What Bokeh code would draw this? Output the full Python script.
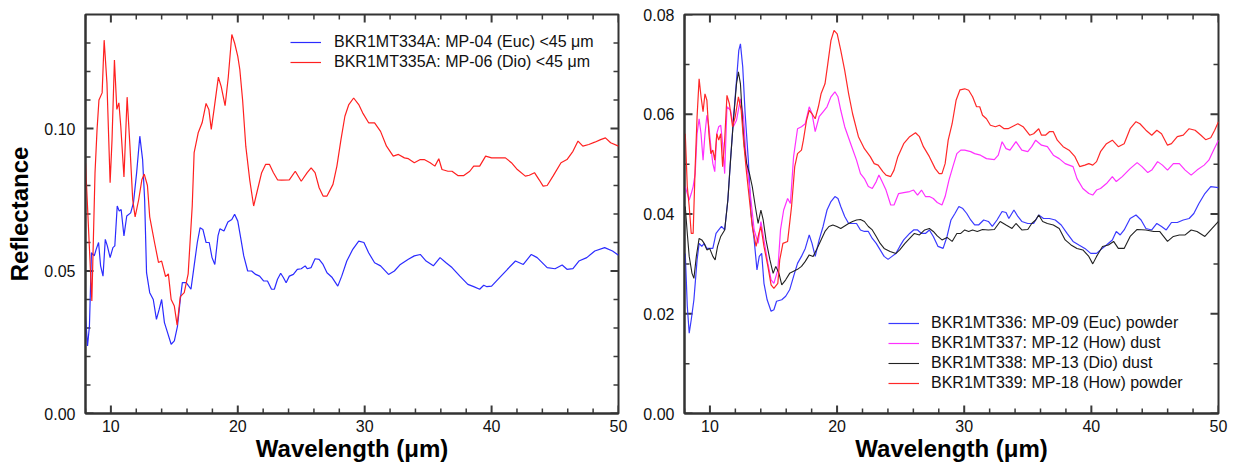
from bokeh.plotting import figure
from bokeh.models import Range1d, SingleIntervalTicker, NumeralTickFormatter, Legend, LegendItem
from bokeh.layouts import row
from bokeh.embed import file_html
from bokeh.resources import INLINE

# ---------------- Left panel data ----------------
L_EUC_X = [8.0, 8.16, 8.31, 8.47, 8.69, 8.84, 9.03, 9.19, 9.38, 9.56,
           9.72, 9.94, 10.16, 10.31, 10.5, 10.66, 10.81, 11.03, 11.25, 11.56,
           11.78, 12.03, 12.28, 12.5, 12.66, 12.81, 13.06, 13.34, 13.59, 13.81,
           14.0, 14.22, 14.38, 14.75, 15.0, 15.25, 15.47, 15.63, 15.94, 16.31,
           16.56, 16.81, 17.03, 17.25, 17.5, 17.75, 17.97, 18.19, 18.44, 18.59,
           18.91, 19.22, 19.53, 19.75, 20.0, 20.25, 20.47, 20.78, 21.09, 21.41,
           21.72, 22.03, 22.34, 22.66, 22.88, 23.13, 23.38, 23.59, 23.81, 24.06,
           24.38, 24.69, 25.0, 25.31, 25.47, 25.78, 26.09, 26.41, 26.72, 27.03,
           27.44, 27.88, 28.19, 28.59, 29.06, 29.53, 29.94, 30.31, 30.78, 31.25,
           31.88, 32.34, 32.81, 33.44, 33.91, 34.38, 34.84, 35.41, 35.94, 36.41,
           36.88, 37.5, 38.13, 38.59, 39.06, 39.38, 39.63, 40.0, 40.63, 41.25,
           41.88, 42.5, 43.13, 43.59, 44.38, 45.0, 45.56, 45.94, 46.41, 46.88,
           47.5, 48.13, 48.91, 49.53, 50.0]
L_EUC_Y = [0.0342, 0.0237, 0.0307, 0.0564, 0.0553, 0.0576, 0.060, 0.0518, 0.0482, 0.0611,
           0.0588, 0.0547, 0.0582, 0.0588, 0.0728, 0.071, 0.0716, 0.0623, 0.0693, 0.0704,
           0.074, 0.0845, 0.0973, 0.0891, 0.075, 0.0494, 0.0424, 0.040, 0.033, 0.0366,
           0.040, 0.0319, 0.0296, 0.0243, 0.0255, 0.0307, 0.040, 0.0459, 0.0459, 0.0436,
           0.0518, 0.060, 0.0652, 0.0646, 0.060, 0.060, 0.0547, 0.0523, 0.0623, 0.0648,
           0.064, 0.0672, 0.0681, 0.0699, 0.0675, 0.0611, 0.0553, 0.050, 0.050, 0.0488,
           0.0482, 0.0465, 0.0465, 0.0436, 0.0436, 0.0471, 0.0492, 0.0477, 0.0459, 0.0482,
           0.0488, 0.0506, 0.0508, 0.0518, 0.0508, 0.0512, 0.0543, 0.0541, 0.0523, 0.0494,
           0.0477, 0.0447, 0.0482, 0.0535, 0.0576, 0.0605, 0.060, 0.0564, 0.0529, 0.0518,
           0.0488, 0.050, 0.0523, 0.0541, 0.0553, 0.0558, 0.0535, 0.0518, 0.0547, 0.0529,
           0.0512, 0.0482, 0.0453, 0.0445, 0.0436, 0.045, 0.0445, 0.0447, 0.0477, 0.0506,
           0.0535, 0.0523, 0.0558, 0.0547, 0.0512, 0.0508, 0.0521, 0.0506, 0.0508, 0.0535,
           0.0547, 0.057, 0.0582, 0.057, 0.0555]

L_DIO_X = [8.0, 8.5, 8.75, 8.91, 9.06, 9.31, 9.47, 9.69, 9.94, 10.09,
           10.28, 10.47, 10.63, 10.78, 11.03, 11.28, 11.5, 11.72, 11.91, 12.19,
           12.44, 12.63, 12.88, 13.06, 13.44, 13.75, 14.0, 14.31, 14.53, 14.75,
           15.0, 15.22, 15.47, 15.78, 16.09, 16.41, 16.56, 16.88, 17.19, 17.5,
           17.72, 17.91, 18.13, 18.47, 18.69, 19.0, 19.25, 19.53, 19.75, 20.0,
           20.16, 20.38, 20.63, 20.94, 21.25, 21.56, 21.88, 22.19, 22.5, 22.81,
           23.13, 23.44, 24.06, 24.53, 25.0, 25.47, 25.78, 26.09, 26.41, 26.72,
           27.03, 27.5, 27.81, 28.13, 28.44, 28.75, 29.13, 29.53, 29.84, 30.31,
           30.78, 31.25, 31.72, 32.25, 32.66, 33.13, 33.44, 33.91, 34.38, 34.69,
           35.16, 35.53, 35.84, 36.09, 36.56, 36.88, 37.34, 37.81, 38.28, 38.59,
           39.06, 39.53, 40.0, 40.63, 41.09, 41.56, 42.03, 42.66, 42.97, 43.38,
           43.75, 44.06, 44.38, 44.84, 45.47, 45.94, 46.41, 46.81, 47.19, 47.66,
           48.13, 48.59, 48.97, 49.38, 50.0]
L_DIO_Y = [0.088, 0.0395, 0.0845, 0.0996, 0.110, 0.1125, 0.131, 0.116, 0.081, 0.096,
           0.124, 0.1067, 0.109, 0.1008, 0.083, 0.111, 0.094, 0.075, 0.069, 0.075,
           0.082, 0.084, 0.080, 0.069, 0.060, 0.053, 0.0535, 0.048, 0.049, 0.040,
           0.0377, 0.031, 0.041, 0.0424, 0.049, 0.0728, 0.0915, 0.0985, 0.102, 0.1088,
           0.1067, 0.0997, 0.1067, 0.118, 0.1148, 0.108, 0.118, 0.133, 0.130, 0.1253,
           0.1207, 0.110, 0.0938, 0.082, 0.0728, 0.0786, 0.0845, 0.0874, 0.0874, 0.0845,
           0.082, 0.0819, 0.082, 0.085, 0.0815, 0.0845, 0.0862, 0.0845, 0.0792, 0.0763,
           0.0763, 0.0804, 0.0868, 0.0961, 0.1043, 0.1084, 0.1107, 0.1084, 0.1055, 0.102,
           0.102, 0.099, 0.0938, 0.0903, 0.0909, 0.0897, 0.0894, 0.088, 0.0891, 0.0891,
           0.088, 0.0868, 0.0894, 0.0856, 0.085, 0.085, 0.0835, 0.0835, 0.085, 0.0868,
           0.0868, 0.0903, 0.0897, 0.0897, 0.0897, 0.088, 0.0856, 0.0833, 0.0836, 0.0845,
           0.082, 0.0798, 0.080, 0.0833, 0.088, 0.0891, 0.092, 0.0956, 0.0938, 0.0944,
           0.0952, 0.0961, 0.0967, 0.095, 0.0938]

# ---------------- Right panel data ----------------
R_EUC_X = [8.06, 8.22, 8.37, 8.53, 8.74, 8.99, 9.15, 9.36, 9.55, 9.76,
           9.98, 10.23, 10.48, 10.69, 10.91, 11.16, 11.41, 11.62, 11.84, 12.09,
           12.27, 12.40, 12.58, 12.77, 13.02, 13.23, 13.48, 13.70, 13.88, 14.07,
           14.25, 14.50, 14.81, 15.03, 15.24, 15.65, 15.96, 16.27, 16.58, 16.89,
           17.20, 17.50, 17.81, 18.03, 18.28, 18.59, 18.90, 19.21, 19.52, 19.83,
           20.07, 20.29, 20.60, 20.91, 21.22, 21.53, 21.84, 22.15, 22.46, 22.77,
           23.08, 23.39, 23.70, 24.01, 24.32, 24.63, 24.93, 25.24, 25.71, 26.02,
           26.33, 26.64, 26.95, 27.26, 27.57, 27.94, 28.34, 28.65, 28.96, 29.27,
           29.58, 29.89, 30.20, 30.51, 30.82, 31.13, 31.53, 31.90, 32.21, 32.58,
           32.98, 33.29, 33.51, 33.91, 34.22, 34.53, 35.0, 35.46, 35.86, 36.24,
           36.70, 37.16, 37.63, 38.09, 38.56, 39.02, 39.49, 39.95, 40.41, 40.72,
           41.19, 41.65, 41.96, 42.27, 42.58, 43.05, 43.51, 43.91, 44.29, 44.75,
           45.15, 45.52, 45.89, 46.30, 46.76, 47.23, 47.69, 48.06, 48.46, 48.93,
           49.39, 50.0]
R_EUC_Y = [0.0321, 0.0215, 0.0161, 0.0188, 0.0228, 0.0308, 0.0341, 0.0335, 0.0341, 0.0331,
           0.0331, 0.0331, 0.0361, 0.0368, 0.0375, 0.0368, 0.0428, 0.0508, 0.0588, 0.0668,
           0.0728, 0.0741, 0.0695, 0.0601, 0.0508, 0.0401, 0.0348, 0.0288, 0.0315, 0.0321,
           0.0261, 0.0228, 0.0205, 0.0208, 0.0225, 0.0228, 0.0235, 0.0248, 0.0275, 0.0301,
           0.0315, 0.0331, 0.0358, 0.0341, 0.0315, 0.0348, 0.0375, 0.0408, 0.0425, 0.0435,
           0.0431, 0.0415, 0.0395, 0.0381, 0.0381, 0.0381, 0.0368, 0.0365, 0.0365, 0.0351,
           0.0341, 0.0328, 0.0315, 0.0309, 0.0315, 0.0321, 0.0335, 0.0348, 0.0361, 0.0368,
           0.0368, 0.0361, 0.0361, 0.0368, 0.0355, 0.0335, 0.0331, 0.0355, 0.0388, 0.0401,
           0.0415, 0.0411, 0.0401, 0.0388, 0.0378, 0.0378, 0.0388, 0.0385, 0.0375, 0.0388,
           0.0405, 0.0403, 0.0391, 0.0408, 0.0395, 0.0385, 0.0381, 0.0381, 0.0398, 0.0391,
           0.0391, 0.0388, 0.0378, 0.0361, 0.0345, 0.0338, 0.0331, 0.0321, 0.0321, 0.0328,
           0.0338, 0.0348, 0.0365, 0.0358, 0.0368, 0.0391, 0.0398, 0.0388, 0.0371, 0.0368,
           0.0381, 0.0375, 0.0368, 0.0383, 0.0383, 0.0388, 0.0391, 0.0401, 0.0421, 0.0441,
           0.0455, 0.0453]

R_HOWD_X = [8.06, 8.22, 8.37, 8.53, 8.68, 8.84, 8.99, 9.15, 9.30, 9.46,
            9.61, 9.76, 9.92, 10.07, 10.23, 10.38, 10.54, 10.69, 10.85, 11.0,
            11.16, 11.34, 11.62, 11.84, 12.09, 12.40, 12.64, 12.86, 13.17, 13.48,
            13.79, 14.01, 14.25, 14.56, 14.81, 15.03, 15.34, 15.55, 15.80, 16.11,
            16.33, 16.58, 16.89, 17.20, 17.50, 17.81, 18.03, 18.28, 18.59, 18.90,
            19.21, 19.52, 19.83, 20.07, 20.29, 20.60, 21.07, 21.53, 21.84, 22.15,
            22.46, 22.77, 23.08, 23.29, 23.54, 23.85, 24.22, 24.48, 24.84, 25.24,
            25.71, 26.02, 26.33, 26.64, 26.95, 27.26, 27.57, 27.88, 28.25, 28.50,
            28.80, 29.11, 29.42, 29.73, 30.04, 30.51, 30.82, 31.28, 31.75, 32.37,
            32.68, 32.98, 33.29, 33.60, 34.07, 34.53, 35.0, 35.31, 35.62, 36.08,
            36.54, 37.01, 37.47, 37.94, 38.56, 38.87, 39.33, 39.80, 40.11, 40.41,
            40.72, 41.19, 41.65, 41.96, 42.43, 43.05, 43.60, 43.98, 44.44, 44.75,
            45.21, 45.59, 45.99, 46.45, 46.92, 47.38, 47.85, 48.31, 48.87, 49.24,
            49.61, 50.0]
R_HOWD_Y = [0.0455, 0.0441, 0.0428, 0.0441, 0.0455, 0.0481, 0.0561, 0.0591, 0.0561, 0.0508,
            0.0561, 0.0598, 0.0575, 0.0535, 0.0501, 0.0485, 0.0561, 0.0575, 0.0578, 0.0541,
            0.0481, 0.0615, 0.0608, 0.0575, 0.0588, 0.0631, 0.0595, 0.0508, 0.0441, 0.0368,
            0.0341, 0.0385, 0.0348, 0.0301, 0.0268, 0.0261, 0.0288, 0.0368, 0.0408, 0.0431,
            0.0421, 0.0515, 0.0571, 0.0575, 0.0581, 0.0615, 0.0601, 0.0565, 0.0595, 0.0605,
            0.0615, 0.0635, 0.0645, 0.0635, 0.0608, 0.0575, 0.0541, 0.0508, 0.0481, 0.0471,
            0.0455, 0.0451, 0.0465, 0.0478, 0.0465, 0.0448, 0.0418, 0.0418, 0.0441, 0.0443,
            0.0445, 0.0448, 0.0438, 0.0448, 0.0435, 0.0435, 0.0431, 0.0423, 0.0418, 0.0435,
            0.0468, 0.0495, 0.0521, 0.0528, 0.0528, 0.0525, 0.0521, 0.0518, 0.0511, 0.0509,
            0.0518, 0.0545, 0.0531, 0.0528, 0.0545, 0.0528, 0.0525, 0.0535, 0.0548, 0.0538,
            0.0535, 0.0518, 0.0511, 0.0501, 0.0495, 0.0471, 0.0451, 0.0441, 0.0438, 0.0448,
            0.0451, 0.0461, 0.0475, 0.0465, 0.0475, 0.0491, 0.0503, 0.0495, 0.0483, 0.0488,
            0.0505, 0.0498, 0.0488, 0.0501, 0.0501, 0.0488, 0.0478, 0.0488, 0.0498, 0.0508,
            0.0528, 0.0548]

R_DIO_X = [8.06, 8.22, 8.37, 8.59, 8.74, 8.93, 9.15, 9.36, 9.55, 9.76,
           9.98, 10.23, 10.41, 10.60, 10.85, 11.16, 11.41, 11.62, 11.87, 12.09,
           12.24, 12.40, 12.58, 12.71, 12.89, 13.11, 13.33, 13.57, 13.79, 14.01,
           14.19, 14.41, 14.72, 14.97, 15.18, 15.43, 15.65, 15.96, 16.27, 16.58,
           16.89, 17.20, 17.50, 17.81, 18.12, 18.43, 18.74, 19.05, 19.36, 19.67,
           19.98, 20.29, 20.60, 20.91, 21.22, 21.53, 21.84, 22.15, 22.46, 22.77,
           23.08, 23.39, 23.70, 24.17, 24.63, 24.93, 25.34, 25.71, 26.08, 26.48,
           26.89, 27.26, 27.57, 27.88, 28.25, 28.65, 29.05, 29.42, 29.73, 30.04,
           30.35, 30.66, 31.03, 31.44, 31.90, 32.37, 32.83, 33.29, 33.76, 34.07,
           34.53, 35.0, 35.31, 35.62, 35.86, 36.17, 36.54, 37.01, 37.47, 37.94,
           38.40, 38.87, 39.33, 39.80, 40.11, 40.41, 40.88, 41.34, 41.75, 42.12,
           42.58, 43.05, 43.60, 44.29, 44.90, 45.37, 45.99, 46.45, 46.92, 47.38,
           47.85, 48.31, 48.93, 49.39, 50.0]
R_DIO_Y = [0.0415, 0.0361, 0.0315, 0.0281, 0.0271, 0.0315, 0.0351, 0.0348, 0.0341, 0.0328,
           0.0331, 0.0315, 0.0308, 0.0335, 0.0355, 0.0368, 0.0428, 0.0508, 0.0595, 0.0661,
           0.0685, 0.0661, 0.0581, 0.0535, 0.0501, 0.0481, 0.0455, 0.0415, 0.0381, 0.0408,
           0.0388, 0.0348, 0.0308, 0.0281, 0.0295, 0.0281, 0.0258, 0.0268, 0.0281, 0.0285,
           0.0289, 0.0295, 0.0305, 0.0318, 0.0315, 0.0331, 0.0348, 0.0365, 0.0375, 0.0378,
           0.0375, 0.0371, 0.0376, 0.0381, 0.0385, 0.0388, 0.0389, 0.0385, 0.0375, 0.0368,
           0.0355, 0.0341, 0.0331, 0.0325, 0.0321, 0.0328, 0.0341, 0.0351, 0.0361, 0.0358,
           0.0368, 0.0371, 0.0365, 0.0356, 0.0348, 0.0353, 0.0345, 0.0361, 0.0361, 0.0368,
           0.0365, 0.0368, 0.0365, 0.0369, 0.0368, 0.0369, 0.0385, 0.0378, 0.0371, 0.0381,
           0.0368, 0.0369, 0.0381, 0.0388, 0.0398, 0.0385, 0.0381, 0.0378, 0.0371, 0.0348,
           0.0338, 0.0331, 0.0328, 0.0315, 0.030, 0.0315, 0.0335, 0.0338, 0.0345, 0.0331,
           0.0331, 0.0355, 0.0369, 0.0368, 0.0365, 0.0365, 0.0345, 0.0355, 0.0358, 0.0358,
           0.0368, 0.0365, 0.0355, 0.0368, 0.0385]

R_HOWP_X = [8.06, 8.22, 8.37, 8.53, 8.68, 8.84, 8.99, 9.15, 9.30, 9.46,
            9.61, 9.76, 9.92, 10.07, 10.23, 10.38, 10.54, 10.69, 10.85, 11.0,
            11.16, 11.34, 11.53, 11.78, 11.99, 12.24, 12.46, 12.64, 12.86, 13.11,
            13.33, 13.63, 13.85, 14.01, 14.25, 14.56, 14.81, 15.03, 15.34, 15.49,
            15.74, 16.11, 16.42, 16.67, 16.89, 17.20, 17.35, 17.60, 17.81, 18.03,
            18.28, 18.53, 18.74, 19.05, 19.27, 19.52, 19.76, 20.01, 20.29, 20.60,
            20.91, 21.22, 21.68, 22.15, 22.61, 22.92, 23.23, 23.60, 23.85, 24.22,
            24.48, 24.78, 25.24, 25.71, 26.17, 26.48, 26.79, 27.26, 27.72, 28.03,
            28.25, 28.50, 28.74, 29.05, 29.36, 29.67, 30.04, 30.35, 30.66, 30.97,
            31.22, 31.44, 31.75, 32.06, 32.46, 32.77, 33.14, 33.45, 33.76, 34.22,
            34.63, 35.15, 35.46, 35.86, 36.08, 36.39, 36.70, 37.01, 37.32, 37.78,
            38.25, 38.71, 39.08, 39.49, 39.80, 40.11, 40.41, 40.72, 41.19, 41.65,
            42.12, 42.58, 43.05, 43.51, 43.82, 44.29, 44.75, 45.15, 45.52, 45.99,
            46.30, 46.76, 47.23, 47.69, 48.16, 48.62, 48.99, 49.39, 49.70, 50.0]
R_HOWP_Y = [0.0561, 0.0455, 0.0415, 0.0361, 0.0361, 0.0495, 0.0595, 0.0671, 0.0635, 0.0605,
            0.0641, 0.0628, 0.0561, 0.0521, 0.0528, 0.0508, 0.0561, 0.0548, 0.0561, 0.0495,
            0.0548, 0.0638, 0.0621, 0.0575, 0.0595, 0.0635, 0.0608, 0.0548, 0.0488, 0.0428,
            0.0375, 0.0335, 0.0361, 0.0375, 0.0335, 0.0295, 0.0258, 0.0251, 0.0261, 0.0308,
            0.0341, 0.0345, 0.0415, 0.0495, 0.0521, 0.0528, 0.0548, 0.0588, 0.0608, 0.0601,
            0.0591, 0.0615, 0.0641, 0.0661, 0.0701, 0.0748, 0.0768, 0.0761, 0.0728, 0.0688,
            0.0641, 0.0601, 0.0555, 0.0531, 0.0515, 0.0501, 0.0498, 0.0485, 0.0478, 0.0475,
            0.0488, 0.0515, 0.0541, 0.0555, 0.0563, 0.0555, 0.0535, 0.0515, 0.0491, 0.0481,
            0.0481, 0.0501, 0.0548, 0.0581, 0.0628, 0.0649, 0.0651, 0.0648, 0.0635, 0.0615,
            0.0615, 0.0598, 0.0591, 0.0578, 0.0575, 0.0578, 0.0571, 0.0571, 0.0575, 0.0581,
            0.0575, 0.0558, 0.0561, 0.0571, 0.0558, 0.0558, 0.0565, 0.0565, 0.0548, 0.0535,
            0.0528, 0.0515, 0.0495, 0.0498, 0.0501, 0.0498, 0.0505, 0.0525, 0.0541, 0.0548,
            0.0535, 0.0541, 0.0571, 0.0585, 0.0581, 0.0568, 0.0558, 0.0568, 0.0561, 0.0538,
            0.0541, 0.0555, 0.0558, 0.0571, 0.0568, 0.0558, 0.0549, 0.0553, 0.0568, 0.0585]

LEFT_LABELS = ["BKR1MT334A: MP-04 (Euc) <45 \u03bcm", "BKR1MT335A: MP-06 (Dio) <45 \u03bcm"]
RIGHT_LABELS = ["BKR1MT336: MP-09 (Euc) powder", "BKR1MT337: MP-12 (How) dust",
                "BKR1MT338: MP-13 (Dio) dust", "BKR1MT339: MP-18 (How) powder"]
X_TITLE = "Wavelength (\u03bcm)"
Y_TITLE = "Reflectance"

# tick positions (drawn as inward tick marks on all four frame edges)
X_MAJOR = [10, 20, 30, 40, 50]
X_MINOR = [8, 12, 14, 16, 18, 22, 24, 26, 28, 32, 34, 36, 38, 42, 44, 46, 48]
YL_MAJOR = [0.00, 0.05, 0.10]
YL_MINOR = [0.01, 0.02, 0.03, 0.04, 0.06, 0.07, 0.08, 0.09, 0.11, 0.12, 0.13]
YR_MAJOR = [0.00, 0.02, 0.04, 0.06, 0.08]
YR_MINOR = [0.01, 0.03, 0.05, 0.07]
X_LIM = (8, 50)
YL_LIM = (0, 0.14)
YR_LIM = (0, 0.08)

FONT = "Liberation Sans"
FRAME = "#333333"
TICK = "#3a3a3a"
MAJOR_LEN = 8     # px
MINOR_LEN = 5     # px
FRAME_H = 399     # px, plot-area height of both panels
FRAME_W1 = 533    # px, plot-area width of left panel
FRAME_W2 = 534    # px, plot-area width of right panel


def style(p, y_interval, y_minor):
    xax = p.below[0]
    yax = p.left[0]
    xax.ticker = SingleIntervalTicker(interval=10, num_minor_ticks=5)
    yax.ticker = SingleIntervalTicker(interval=y_interval, num_minor_ticks=y_minor)
    yax.formatter = NumeralTickFormatter(format="0.00")
    for ax in [xax, yax]:
        ax.major_tick_in = 0
        ax.major_tick_out = 0
        ax.minor_tick_in = 0
        ax.minor_tick_out = 0
        ax.axis_line_color = FRAME
        ax.axis_line_width = 2
        ax.major_label_text_font = FONT
        ax.major_label_text_font_size = "16px"
        ax.major_label_text_color = "#111111"
        ax.axis_label_text_font = FONT
        ax.axis_label_text_font_size = "24px"
        ax.axis_label_text_font_style = "bold"
        ax.axis_label_text_color = "#000000"
    xax.major_label_standoff = 6
    xax.axis_label_standoff = 0
    yax.major_label_standoff = 10
    p.xgrid.visible = False
    p.ygrid.visible = False
    p.outline_line_color = FRAME
    p.outline_line_width = 2
    p.background_fill_color = "white"
    p.border_fill_color = "white"
    return xax, yax


def add_ticks(p, ylim, y_major, y_minor, frame_w):
    x0, x1 = X_LIM
    y0, y1 = ylim
    px_x = (x1 - x0) / frame_w      # data units per pixel along x
    px_y = (y1 - y0) / FRAME_H      # data units per pixel along y
    for ticks, length, width in [(X_MAJOR, MAJOR_LEN, 2), (X_MINOR, MINOR_LEN, 1.5)]:
        n = len(ticks)
        p.segment(x0=ticks, y0=[y0] * n, x1=ticks, y1=[y0 + length * px_y] * n,
                  line_color=TICK, line_width=width)
        p.segment(x0=ticks, y0=[y1] * n, x1=ticks, y1=[y1 - length * px_y] * n,
                  line_color=TICK, line_width=width)
    for ticks, length, width in [(y_major, MAJOR_LEN, 2), (y_minor, MINOR_LEN, 1.5)]:
        n = len(ticks)
        p.segment(x0=[x0] * n, y0=ticks, x1=[x0 + length * px_x] * n, y1=ticks,
                  line_color=TICK, line_width=width)
        p.segment(x0=[x1] * n, y0=ticks, x1=[x1 - length * px_x] * n, y1=ticks,
                  line_color=TICK, line_width=width)


# ---------------- Left figure ----------------
p1 = figure(width=638, height=468, output_backend="svg", toolbar_location=None,
            x_range=Range1d(*X_LIM), y_range=Range1d(*YL_LIM),
            min_border_left=85, min_border_right=20, min_border_top=14, min_border_bottom=55)
xa1, ya1 = style(p1, 0.05, 5)
xa1.axis_label = X_TITLE
ya1.axis_label = Y_TITLE
ya1.axis_label_standoff = 8
add_ticks(p1, YL_LIM, YL_MAJOR, YL_MINOR, FRAME_W1)

r_a = p1.line(L_EUC_X, L_EUC_Y, line_color="#2b2bff", line_width=1.2)
r_b = p1.line(L_DIO_X, L_DIO_Y, line_color="#ff2020", line_width=1.2)
leg1 = Legend(items=[LegendItem(label=LEFT_LABELS[0], renderers=[r_a]),
                     LegendItem(label=LEFT_LABELS[1], renderers=[r_b])],
              location=(205, 341), padding=0, spacing=0, glyph_width=31, glyph_height=20,
              label_height=20, label_standoff=13, border_line_color=None,
              background_fill_alpha=0, label_text_font=FONT, label_text_font_size="16px",
              label_text_color="#111111")
p1.add_layout(leg1)

# ---------------- Right figure ----------------
p2 = figure(width=596, height=468, output_backend="svg", toolbar_location=None,
            x_range=Range1d(*X_LIM), y_range=Range1d(*YR_LIM),
            min_border_left=46, min_border_right=16, min_border_top=14, min_border_bottom=55)
xa2, ya2 = style(p2, 0.02, 2)
xa2.axis_label = X_TITLE
add_ticks(p2, YR_LIM, YR_MAJOR, YR_MINOR, FRAME_W2)

s1 = p2.line(R_EUC_X, R_EUC_Y, line_color="#3a3aff", line_width=1.2)
s2 = p2.line(R_HOWD_X, R_HOWD_Y, line_color="#ff30ff", line_width=1.2)
s3 = p2.line(R_DIO_X, R_DIO_Y, line_color="#222222", line_width=1.1)
s4 = p2.line(R_HOWP_X, R_HOWP_Y, line_color="#ff2828", line_width=1.2)
leg2 = Legend(items=[LegendItem(label=RIGHT_LABELS[0], renderers=[s1]),
                     LegendItem(label=RIGHT_LABELS[1], renderers=[s2]),
                     LegendItem(label=RIGHT_LABELS[2], renderers=[s3]),
                     LegendItem(label=RIGHT_LABELS[3], renderers=[s4])],
              location=(204, 20), padding=0, spacing=0, glyph_width=31, glyph_height=20,
              label_height=20, label_standoff=12, border_line_color=None,
              background_fill_alpha=0, label_text_font=FONT, label_text_font_size="16px",
              label_text_color="#111111")
p2.add_layout(leg2)

layout = row(p1, p2)
open("out.html", "w").write(file_html(layout, INLINE))
